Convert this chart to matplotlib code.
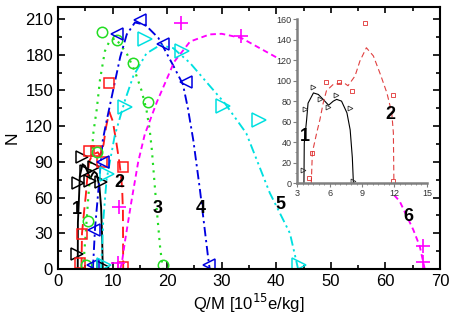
import matplotlib
matplotlib.use("Agg")
import matplotlib.pyplot as plt
from matplotlib.patches import Rectangle

plt.rcParams['font.family'] = ['Liberation Sans', 'DejaVu Sans']

x1 = [3.56, 3.71, 4.49, 5.1, 5.88, 6.56, 7.89, 8.2]
y1 = [13, 72, 94, 82, 74, 86, 73, 2]
x2 = [4.1, 4.33, 5.66, 6.9, 8.1, 9.28, 11.85, 11.9]
y2 = [5, 29, 99, 99, 90, 156, 86, 2]
x3 = [5.1, 5.55, 7.1, 8.1, 10.9, 13.7, 16.5, 19.2]
y3 = [3, 40, 98, 199, 192, 173, 140, 3]
x4 = [6.4, 6.6, 8.3, 10.9, 15.1, 19.2, 23.4, 27.7]
y4 = [3, 33, 90, 197.5, 209, 189, 157, 3]
x5 = [8.4, 8.9, 12.3, 15.9, 22.8, 30.2, 36.9, 44.1]
y5 = [3, 80, 136, 193, 183, 137, 125, 3]
x6 = [11.05, 11.2, 22.5, 33.6, 66.9, 66.9]
y6 = [5, 52, 206.5, 196, 19.6, 6]

# fitted curves
c1x = [3.62, 3.65, 3.87, 4.0, 4.5, 4.95, 5.4, 5.9, 6.34, 6.65, 7.1, 7.6, 7.9, 8.1, 8.2]
c1y = [0, 39, 62, 78, 88, 86.5, 81.7, 76, 80, 81.7, 80, 68.6, 52, 25, 0]
c2x = [4.3, 4.4, 4.8, 5.1, 5.4, 5.7, 6.3, 7.3, 7.7, 8.35, 8.8, 9.4, 10.05, 10.7, 11.3, 11.75, 11.9, 11.95]
c2y = [0, 30, 49, 62, 78, 90, 96, 98, 95, 104.5, 119, 132, 124, 106, 88, 68.6, 49, 0]
c3x = [4.6, 5.0, 5.55, 6.5, 7.1, 7.7, 8.6, 9.4, 10.5, 12.6, 14.1, 15.3, 16.2, 16.8, 17.2, 18.0, 18.7, 19.2]
c3y = [0, 25, 60, 115, 134, 159, 183, 191, 194, 181, 166, 150, 134, 117, 100, 55, 19, 0]
c4x = [6.4, 6.8, 7.4, 8.2, 8.8, 10.1, 11.4, 12.6, 14.1, 16.0, 18.4, 21.1, 22.9, 23.8, 24.8, 26.0, 27.5, 27.8]
c4y = [0, 35, 66, 108, 122, 150, 178, 197, 207, 205, 194, 171, 155, 135, 108, 67, 10, 0]
c5x = [7.9, 8.3, 8.9, 10.4, 12.3, 13.8, 16.2, 18.7, 21.1, 24.2, 27.2, 30.6, 34.5, 38.8, 42.5, 44.0]
c5y = [0, 41, 75, 112, 142, 162, 181, 188, 185.5, 173, 157, 139, 114, 64, 30, 0]
c6x = [11.4, 11.7, 12.3, 13.5, 14.7, 15.9, 18.1, 21.3, 24.2, 27.8, 30.0, 33.6, 40.3, 45.0, 50.0, 55.0, 59.0, 62.6, 65.1, 66.3, 67.2]
c6y = [0, 5, 24, 58, 90, 113, 140, 174, 191, 197, 197.5, 194, 177, 155, 125, 97, 75, 57, 33, 19, 0]

xticks = [0, 10, 20, 30, 40, 50, 60, 70]
yticks = [0, 30, 60, 90, 120, 150, 180, 210]
inset_xticks = [3, 6, 9, 12, 15]
inset_yticks = [0, 20, 40, 60, 80, 100, 120, 140, 160]

red = '#ff1a1a'
green = '#22dd22'
blue = '#0000e0'
cyan = '#00e0e0'
magenta = '#ff00ff'

fig = plt.figure(figsize=(4.58, 3.17), dpi=100)
ax = fig.add_axes([0.1266, 0.1514, 0.8341, 0.8265])

lw = 1.35
ax.plot(c1x, c1y, '-', color='black', lw=lw)
ax.plot(c2x, c2y, color=red, lw=lw, dashes=(6, 3))
ax.plot(c3x, c3y, color=green, lw=lw + 0.2, dashes=(1, 2.5))
ax.plot(c4x, c4y, color=blue, lw=lw, dashes=(5, 2, 1.2, 2))
ax.plot(c5x, c5y, color=cyan, lw=lw, dashes=(5, 2, 1.2, 2, 1.2, 2))
ax.plot(c6x, c6y, color=magenta, lw=lw, dashes=(3, 2))

mkw = dict(ls='none', mfc='none', mew=1.1)
ax.plot(x1, y1, marker='>', ms=9, mec='black', **mkw)
ax.plot(x2, y2, marker='s', ms=7, mec=red, **mkw)
ax.plot(x3, y3, marker='o', ms=7.5, mec=green, **mkw)
ax.plot(x4, y4, marker='<', ms=9, mec=blue, **mkw)
ax.plot(x5, y5, marker='>', ms=10, mec=cyan, **mkw)
ax.plot(x6, y6, marker='+', ms=10, mec=magenta, mew=1.2, ls='none')

lab = dict(fontsize=13, fontweight='bold', ha='center', va='center')
ax.text(3.5, 50, '1', **lab)
ax.text(11.2, 73, '2', **lab)
ax.text(18.2, 51, '3', **lab)
ax.text(26.2, 51, '4', **lab)
ax.text(40.7, 54, '5', **lab)
ax.text(64.2, 44, '6', **lab)

ax.set_xlim(0, 70)
ax.set_ylim(0, 220)
ax.set_xticks(xticks)
ax.set_yticks(yticks)
ax.set_xticks(range(0, 71, 5), minor=True)
ax.set_yticks(range(0, 220, 15), minor=True)
ax.tick_params(which='both', direction='in', top=True, right=True, labelsize=12, width=1.2)
ax.tick_params(which='major', length=5)
ax.tick_params(which='minor', length=3)
for s in ax.spines.values():
    s.set_linewidth(1.5)
ax.set_xlabel('Q/M [10$^{15}$e/kg]', fontsize=12, labelpad=2)
ax.set_ylabel('N', fontsize=12.5, labelpad=4)

# white background behind the inset
fig.patches.append(Rectangle((0.605, 0.382), 0.338, 0.578, transform=fig.transFigure,
                             facecolor='white', edgecolor='none', zorder=2))

ins = fig.add_axes([0.649, 0.422, 0.283, 0.518])
ins.set_zorder(3)
ins.plot(c1x, c1y, '-', color='black', lw=0.8)
ins.plot(c2x, c2y, color='#e04040', lw=0.8, dashes=(5, 3))
ins.plot(x1, y1, marker='>', ms=3.5, mec='#333333', mfc='none', mew=0.6, ls='none')
ins.plot(x2, y2, marker='s', ms=3, mec='#e03030', mfc='none', mew=0.6, ls='none')
ins.text(3.7, 46, '1', fontsize=13, fontweight='bold', ha='center', va='center')
ins.text(11.6, 67, '2', fontsize=13, fontweight='bold', ha='center', va='center')
ins.set_xlim(3, 15)
ins.set_ylim(0, 160)
ins.set_xticks(inset_xticks)
ins.set_yticks(inset_yticks)
ins.set_yticks(range(0, 161, 10), minor=True)
ins.set_xticks([x / 2 for x in range(6, 31)], minor=True)
ins.spines['top'].set_visible(False)
ins.spines['right'].set_visible(False)
for s in ('left', 'bottom'):
    ins.spines[s].set_color('#808080')
    ins.spines[s].set_linewidth(1.8)
ins.tick_params(which='both', direction='out', colors='#808080', labelcolor='#333333',
                labelsize=6.5, pad=1)
ins.tick_params(which='major', length=3)
ins.tick_params(which='minor', length=1.5)

fig.savefig('out.png', dpi=100)
